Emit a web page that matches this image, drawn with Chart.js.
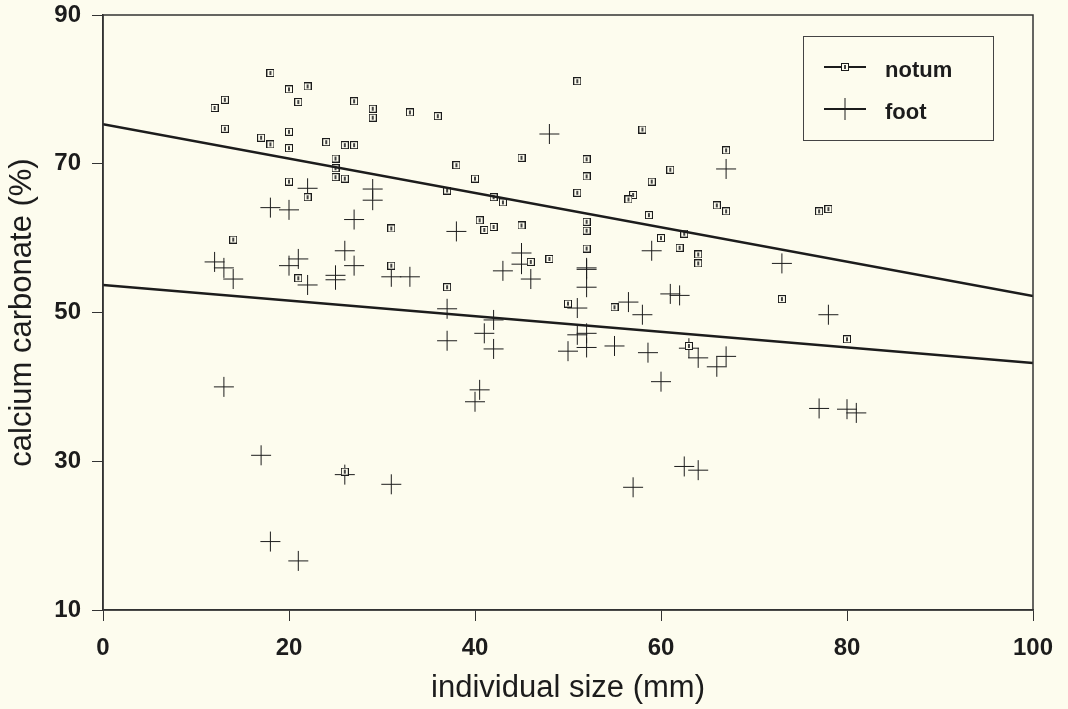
<!DOCTYPE html>
<html>
<head>
    <title>Calcium carbonate vs size</title>
    <meta charset="UTF-8">
    <style>
        body {
            margin: 0;
            background: #fdfcee;
        }
        .chart-container {
            width: 1068px;
            height: 709px;
        }
    </style>
    <script src="https://cdn.jsdelivr.net/npm/chart.js"></script>
</head>
<body>

<div class="chart-container">
    <canvas id="myChart" width="1068" height="709"></canvas>
</div>

<script>
    // notum measurements: size (mm) and calcium carbonate (%)
    const notumX = [18, 20, 22, 13.1, 12, 21, 27, 29, 29, 33, 36, 13.1, 17, 18, 20, 20, 24, 26, 27, 25,
        25, 25, 26, 20, 22, 31, 14, 31, 21, 26,
        51, 58, 38, 40, 45, 52, 52, 51, 61, 59, 57, 56.5, 66, 37, 42, 43, 58.7, 40.5, 41, 42,
        45, 52, 52, 52, 62.5, 60, 62, 64, 64, 46, 48, 37, 50, 55, 63, 67, 67, 77, 78, 73, 80];
    const notumY = [82.2, 80.0, 80.4, 78.6, 77.5, 78.3, 78.4, 77.4, 76.2, 76.9, 76.4, 74.7, 73.5, 72.6, 74.3, 72.1, 72.9, 72.5, 72.5, 70.7,
        69.4, 68.2, 68.0, 67.6, 65.5, 61.3, 59.8, 56.3, 54.6, 28.6,
        81.1, 74.6, 69.8, 68.0, 70.8, 70.6, 68.3, 66.1, 69.2, 67.6, 65.8, 65.2, 64.4, 66.4, 65.5, 64.8, 63.1, 62.4, 61.1, 61.5,
        61.7, 62.2, 61.0, 58.6, 60.6, 60.0, 58.7, 57.8, 56.6, 56.8, 57.2, 53.4, 51.2, 50.7, 45.5, 71.8, 63.6, 63.6, 63.9, 51.8, 46.4];

    // foot measurements
    const footX = [22, 29, 29, 18, 20, 27, 26, 27, 31, 33, 21, 20, 22, 25, 25, 12, 13, 14,
        48, 38, 45, 45, 43, 46, 59, 52, 52, 52, 56.5, 61, 62, 37, 51,
        42, 37, 41, 42, 58, 51, 52, 50, 52, 55, 58.6, 60, 63, 64, 66, 40.5, 40, 62.5, 64, 57,
        78, 67, 77, 80, 81, 67, 73,
        13, 17, 26, 31, 18, 21];
    const footY = [66.7, 66.6, 65.1, 64.1, 63.8, 62.5, 58.3, 56.3, 54.8, 54.8, 57.2, 56.3, 53.7, 55.0, 54.4, 56.8, 56.0, 54.5,
        74.0, 60.9, 58.0, 56.5, 55.6, 54.5, 58.3, 56.0, 55.8, 53.4, 51.4, 52.5, 52.3, 50.5, 50.6,
        49.0, 46.2, 47.2, 45.1, 49.7, 47.0, 47.2, 44.8, 45.3, 45.5, 44.6, 40.7, 45.2, 43.9, 42.7, 39.6, 38.0, 29.3, 28.8, 26.5,
        49.7, 44.1, 37.1, 37.0, 36.5, 69.3, 56.6,
        40.0, 30.8, 28.2, 26.9, 19.2, 16.6];

    // regression lines (values at x = 0 and x = 100)
    const fitX = [0, 100];
    const notumFit = [75.3, 52.2];
    const footFit = [53.7, 43.2];

    const xTicks = [0, 20, 40, 60, 80, 100];
    const yTicks = [10, 30, 50, 70, 90];

    const ink = '#1c1c1c';

    function toPoints(xs, ys) {
        return xs.map((x, i) => ({ x: x, y: ys[i] }));
    }

    // small boxed-dot marker used for notum
    function makeNotumMarker() {
        const c = document.createElement('canvas');
        c.width = 8;
        c.height = 8;
        const g = c.getContext('2d');
        g.fillStyle = '#fdfcee';
        g.fillRect(0, 0, 8, 8);
        g.strokeStyle = ink;
        g.lineWidth = 1;
        g.strokeRect(0.5, 0.5, 7, 7);
        g.fillStyle = '#444';
        g.fillRect(3, 2, 2, 4);
        return c;
    }
    const notumMarker = makeNotumMarker();

    // frame + legend box inside the plot
    const framePlugin = {
        id: 'frame',
        afterDraw(chart) {
            const ctx = chart.ctx;
            const a = chart.chartArea;
            ctx.save();
            ctx.strokeStyle = '#333';
            ctx.lineWidth = 1.5;
            ctx.strokeRect(a.left, a.top, a.right - a.left, a.bottom - a.top);

            const bx = a.right - 230, by = a.top + 21, bw = 190, bh = 104;
            ctx.fillStyle = '#fdfcee';
            ctx.fillRect(bx, by, bw, bh);
            ctx.lineWidth = 1;
            ctx.strokeStyle = '#444';
            ctx.strokeRect(bx + 0.5, by + 0.5, bw, bh);

            const items = chart.data.datasets.filter(d => d.inLegend);
            items.forEach((d, i) => {
                const ly = by + 31 + i * 42;
                ctx.strokeStyle = ink;
                ctx.lineWidth = 2;
                ctx.beginPath();
                ctx.moveTo(bx + 21, ly);
                ctx.lineTo(bx + 63, ly);
                ctx.stroke();
                const cx = bx + 42;
                if (d.pointStyle === 'cross') {
                    ctx.lineWidth = 1;
                    ctx.beginPath();
                    ctx.moveTo(cx, ly - 11);
                    ctx.lineTo(cx, ly + 11);
                    ctx.stroke();
                } else {
                    ctx.drawImage(notumMarker, cx - 4, ly - 4);
                }
                ctx.fillStyle = ink;
                ctx.font = 'bold 22px "Liberation Sans", Arial, sans-serif';
                ctx.textBaseline = 'middle';
                ctx.textAlign = 'left';
                ctx.fillText(d.label, bx + 82, ly + 4);
            });
            ctx.restore();
        }
    };

    const tickFont = { family: '"Liberation Sans", Arial, sans-serif', size: 24, weight: 'bold' };
    const titleFont = { family: '"Liberation Sans", Arial, sans-serif', size: 31, weight: 'normal' };

    new Chart(document.getElementById('myChart'), {
        type: 'scatter',
        data: {
            datasets: [{
                label: 'notum',
                inLegend: true,
                data: toPoints(notumX, notumY),
                pointStyle: notumMarker,
                pointRadius: 4,
                order: 2
            }, {
                label: 'foot',
                inLegend: true,
                data: toPoints(footX, footY),
                pointStyle: 'cross',
                pointRadius: 10,
                pointBorderWidth: 1,
                pointBorderColor: ink,
                borderColor: ink,
                order: 3
            }, {
                label: 'notum fit',
                type: 'line',
                data: toPoints(fitX, notumFit),
                borderColor: ink,
                borderWidth: 2.5,
                pointRadius: 0,
                order: 1
            }, {
                label: 'foot fit',
                type: 'line',
                data: toPoints(fitX, footFit),
                borderColor: ink,
                borderWidth: 2.5,
                pointRadius: 0,
                order: 1
            }]
        },
        options: {
            responsive: false,
            animation: false,
            layout: {
                padding: { top: 15, right: 35, left: 0, bottom: 0 }
            },
            plugins: {
                legend: { display: false },
                tooltip: { enabled: false }
            },
            scales: {
                x: {
                    type: 'linear',
                    min: 0,
                    max: 100,
                    afterBuildTicks: s => { s.ticks = xTicks.map(v => ({ value: v })); },
                    afterFit: s => { s.height = 99; s.paddingRight = 0; s.paddingLeft = 0; },
                    ticks: { font: tickFont, color: ink, padding: 13 },
                    grid: { drawOnChartArea: false, drawTicks: true, tickLength: 11, color: '#333', lineWidth: 1 },
                    border: { display: true, color: '#333', width: 1.5 },
                    title: {
                        display: true,
                        text: 'individual size (mm)',
                        font: titleFont,
                        color: ink,
                        padding: { top: 0, bottom: 2 }
                    }
                },
                y: {
                    type: 'linear',
                    min: 10,
                    max: 90,
                    afterBuildTicks: s => { s.ticks = yTicks.map(v => ({ value: v })); },
                    afterFit: s => { s.width = 103; s.paddingTop = 0; s.paddingBottom = 0; },
                    ticks: { font: tickFont, color: ink, padding: 11 },
                    grid: { drawOnChartArea: false, drawTicks: true, tickLength: 11, color: '#333', lineWidth: 1 },
                    border: { display: true, color: '#333', width: 1.5 },
                    title: {
                        display: true,
                        text: 'calcium carbonate (%)',
                        font: titleFont,
                        color: ink,
                        padding: { top: 4, bottom: 0 }
                    }
                }
            }
        },
        plugins: [framePlugin]
    });
</script>

</body>
</html>
